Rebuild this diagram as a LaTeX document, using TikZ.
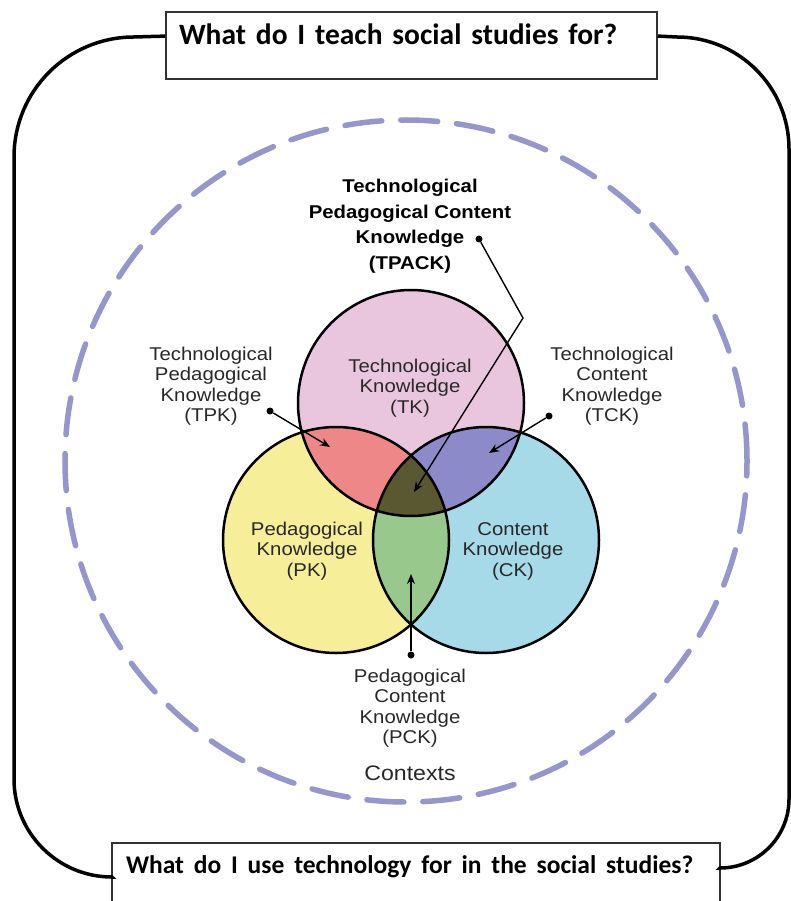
\documentclass[tikz,border=0pt]{standalone}
\usepackage{fontspec}
\newfontfamily\vennfont[FakeStretch=1.1]{Liberation Sans}
\newfontfamily\boxfont[WordSpace=0.75]{Carlito}
\usetikzlibrary{arrows.meta,calc}
\definecolor{tkpink}{RGB}{234,198,222}
\definecolor{pkyellow}{RGB}{246,238,152}
\definecolor{ckblue}{RGB}{166,218,232}
\definecolor{tpkred}{RGB}{238,135,135}
\definecolor{tckpurple}{RGB}{140,138,200}
\definecolor{pckgreen}{RGB}{152,200,140}
\definecolor{tpackolive}{RGB}{90,88,48}
\definecolor{ctxlav}{RGB}{150,150,205}
\definecolor{vtext}{RGB}{40,40,40}
\definecolor{boxgray}{RGB}{50,50,50}
\begin{document}
\begin{tikzpicture}[x=1pt,y=-1pt,
  vlabel/.style={font=\vennfont\fontsize{18.5}{20.5}\selectfont, text=vtext, align=center, inner sep=0pt},
  tlabel/.style={font=\vennfont\bfseries\fontsize{18.5}{25.5}\selectfont, text=black, align=center, inner sep=0pt},
  ctxlabel/.style={font=\vennfont\fontsize{21}{24}\selectfont, text=vtext, inner sep=0pt},
  dotnode/.style={circle, fill=black, inner sep=0pt, minimum size=7pt},
  pointer/.style={line width=1.4pt, draw=black, -{Stealth[length=10pt,width=8pt]}},
  qbox/.style={draw=boxgray, line width=1.8pt, fill=white, font=\boxfont\bfseries\fontsize{29.5}{32}\selectfont, align=left, inner ysep=0pt},
  frame/.style={line width=3.5pt, draw=black},
  ctx/.style={draw=ctxlav, line width=5.5pt, line cap=round, dash pattern=on 37pt off 19pt},
  vcircle/.style={draw=black, line width=2.5pt}
]
\useasboundingbox (0,0) rectangle (790,901);
\fill[white] (0,0) rectangle (790,901);

% contexts dashed circle
\coordinate (cCtx) at (406,461);
\draw[ctx] (cCtx) circle[radius=341pt];

% Venn centres
\coordinate (cTK) at (411,403);
\coordinate (cPK) at (336,540);
\coordinate (cCK) at (486,540);

\fill[tkpink] (cTK) circle[radius=113pt];
\fill[pkyellow] (cPK) circle[radius=113pt];
\fill[ckblue] (cCK) circle[radius=113pt];
\begin{scope}
  \clip (cTK) circle[radius=113pt];
  \fill[tpkred] (cPK) circle[radius=113pt];
  \fill[tckpurple] (cCK) circle[radius=113pt];
\end{scope}
\begin{scope}
  \clip (cPK) circle[radius=113pt];
  \fill[pckgreen] (cCK) circle[radius=113pt];
\end{scope}
\begin{scope}
  \clip (cTK) circle[radius=113pt];
  \clip (cPK) circle[radius=113pt];
  \fill[tpackolive] (cCK) circle[radius=113pt];
\end{scope}
\draw[vcircle] (cTK) circle[radius=113pt];
\draw[vcircle] (cPK) circle[radius=113pt];
\draw[vcircle] (cCK) circle[radius=113pt];

% labels
\node[tlabel] (lTPACK) at (410,226) {Technological\\Pedagogical Content\\Knowledge\\(TPACK)};
\node[vlabel] (lTK) at (410,388) {Technological\\Knowledge\\(TK)};
\node[vlabel] (lTPK) at (211,386) {Technological\\Pedagogical\\Knowledge\\(TPK)};
\node[vlabel] (lTCK) at (612,386) {Technological\\Content\\Knowledge\\(TCK)};
\node[vlabel] (lPK) at (307,551) {Pedagogical\\Knowledge\\(PK)};
\node[vlabel] (lCK) at (513,551) {Content\\Knowledge\\(CK)};
\node[vlabel] (lPCK) at (410,708) {Pedagogical\\Content\\Knowledge\\(PCK)};
\node[ctxlabel] (lCtx) at (410,773) {Contexts};

% pointers
\node[dotnode] (dTPACK) at (479,239) {};
\node[dotnode] (dTPK) at (270,411) {};
\node[dotnode] (dTCK) at (549,416) {};
\node[dotnode] (dPCK) at (411,655) {};
\coordinate (bTPACK) at (523,318);
\coordinate (aTPACK) at (414,492);
\coordinate (aTPK) at (330,447);
\coordinate (aTCK) at (489,453);
\coordinate (aPCK) at (411,574);
\draw[pointer] (dTPACK) -- (bTPACK) -- (aTPACK);
\draw[pointer] (dTPK) -- (aTPK);
\draw[pointer] (dTCK) -- (aTCK);
\draw[pointer] (dPCK) -- (aPCK);

% question boxes
\node[qbox, inner xsep=13pt, text width=465pt, text height=33pt, text depth=34pt] (tq) at (411.5,45.5) {What do I teach social studies for?};
\node[qbox, inner xsep=14pt, text width=580pt, text height=30pt, text depth=50pt] (bq) at (416,883) {\fontsize{25.5}{30}\selectfont\mbox{What do I use technology for in the social studies?}};

% outer frame
\draw[frame] ([yshift=-25pt]tq.north west) -- (134,37) .. controls (67.7,37) and (14,90.7) .. (14,157)
  -- (14,779) .. controls (14,833.1) and (57.9,877) .. (112,877) -- ([yshift=-34pt]bq.north west);
\draw[frame] ([yshift=-25pt]tq.north east) -- (677,37) .. controls (738.9,37) and (789,87.1) .. (789,149)
  -- (789,799) .. controls (789,837.1) and (758.1,868) .. (720,868) -- ([yshift=-25pt]bq.north east);
\end{tikzpicture}
\end{document}
